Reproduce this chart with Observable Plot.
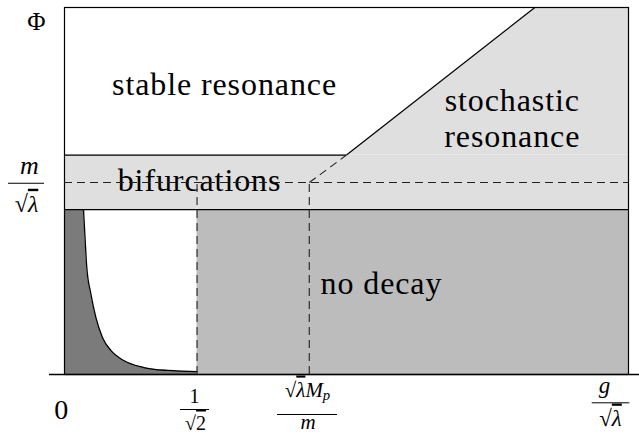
<!DOCTYPE html>
<html>
<head>
<meta charset="utf-8">
<script src="https://cdn.jsdelivr.net/npm/d3@7"></script>
<script src="https://cdn.jsdelivr.net/npm/@observablehq/plot@0.6"></script>
<style>
  html, body { margin: 0; padding: 0; background: #ffffff; }
  #chart { width: 639px; height: 435px; }
</style>
</head>
<body>
<div id="chart"></div>
<script>
// ---------- data (x in units of g/√λ, y in units of the top of the Φ axis) ----------
const xTickValues       = [0, 0.235, 0.434, 1];
const xTickNumerators   = ["0", "1", "√λM_p", "g"];
const xTickDenominators = ["", "√2", "m", "√λ"];
const yTickValues       = [0.523, 1];
const yTickNumerators   = ["m", "Φ"];
const yTickDenominators = ["√λ", ""];

const bandTop    = 0.598;   // upper edge of the bifurcation band
const bandBottom = 0.449;   // upper edge of the "no decay" block
const kinkX      = 0.5;     // where the stochastic boundary leaves the band
const topCrossX  = 0.834;   // where it reaches the top of the plot

// stochastic-resonance region (upper boundary)
const stochX   = [kinkX, topCrossX, 1];
const stochTop = [bandTop, 1, 1];

// decay boundary curve
const curveX = [0.0337, 0.036, 0.0395, 0.0466, 0.0555, 0.0673, 0.0822, 0.105, 0.1405, 0.183, 0.235];
const curveY = [0.449, 0.385, 0.292, 0.221, 0.156, 0.101, 0.0655, 0.038, 0.019, 0.011, 0.008];

// region names and their anchor (text baseline) in data units
const regionNames = ["stable resonance", "stochastic\nresonance", "bifurcations", "no decay"];
const regionX     = [0.2837, 0.794, 0.2394, 0.562];
const regionY     = [0.7613, 0.6194, 0.4993, 0.2183];

// ---------- layout / styling ----------
const W = 639, H = 435;
const ML = 64, MR = 11, MT = 7, MB = 61;
const PX = W - ML - MR;            // pixels per x unit
const SERIF = "Liberation Serif";
const LIGHT = "#dfdfdf", MEDIUM = "#bcbcbc", DARK = "#7b7b7b";
const DASH = "8,5";

const critical = yTickValues[0];
const halfRoot = xTickValues[1];
const mpRatio  = xTickValues[2];

const band   = [{x1: 0, x2: 1, y1: bandBottom, y2: bandTop}];
const noDec  = [{x1: halfRoot, x2: 1, y1: 0, y2: bandBottom}];
const stoch  = stochX.map((x, i) => ({x, y1: bandTop, y2: stochTop[i]}));
const curve  = curveX.map((x, i) => ({x, y: curveY[i]}));
const darkA  = [{x: 0, y: bandBottom}, ...curve];

function label(axis, v, str, s) {
  if (!str) return null;
  const pos = axis === "x" ? {x: () => v, frameAnchor: "bottom"} : {y: () => v, frameAnchor: "left"};
  const o = {...pos, text: d => d, dx: s.dx, dy: s.dy, fontSize: s.size, fontFamily: SERIF,
    lineAnchor: "bottom", textAnchor: "middle", fill: "black"};
  if (s.italic) o.fontStyle = "italic";
  return Plot.text([str], o);
}
function fracBar(axis, v, s) {
  if (axis === "x") return Plot.ruleY([0], {x1: () => v + s.l / PX, x2: () => v + s.r / PX, dy: s.dy, stroke: "black", strokeWidth: 1});
  return Plot.ruleY([v], {x1: () => s.l / PX, x2: () => s.r / PX, dy: s.dy, stroke: "black", strokeWidth: 1});
}

// label styles (pixel offsets from the tick position)
const xNumStyle = [
  {dx: -3.3, dy: 44.5, size: 28},
  {dx: -2.5, dy: 28,   size: 20},
  {dx: -1.8, dy: 22,   size: 21, italic: true},
  {dx: -24,  dy: 18,   size: 23, italic: true}
];
const xBarStyle = [null, {l: -16.5, r: 12.5, dy: 35}, {l: -31.8, r: 28.2, dy: 40}, {l: -36.3, r: 1.3, dy: 28.3}];
const xDenStyle = [null, {dx: -1.5, dy: 55, size: 20}, {dx: -1.3, dy: 54.5, size: 21, italic: true}, {dx: -18, dy: 51, size: 23, italic: true}];
const yNumStyle = [{dx: -35, dy: -8.3, size: 26, italic: true}, {dx: -28, dy: 22, size: 25}];
const yBarStyle = [{l: -56, r: -20, dy: 0.7}, null];
const yDenStyle = [{dx: -38, dy: 29.2, size: 24, italic: true}, null];

const tickMarks = [];
xTickValues.forEach((v, i) => {
  tickMarks.push(label("x", v, xTickNumerators[i], xNumStyle[i]));
  if (xTickDenominators[i]) {
    tickMarks.push(fracBar("x", v, xBarStyle[i]));
    tickMarks.push(label("x", v, xTickDenominators[i], xDenStyle[i]));
  }
});
yTickValues.forEach((v, i) => {
  tickMarks.push(label("y", v, yTickNumerators[i], yNumStyle[i]));
  if (yTickDenominators[i]) {
    tickMarks.push(fracBar("y", v, yBarStyle[i]));
    tickMarks.push(label("y", v, yTickDenominators[i], yDenStyle[i]));
  }
});

const solid = {stroke: "black", strokeWidth: 1.2};
const dashed = {stroke: "#222", strokeWidth: 1.1, strokeDasharray: DASH};

const plot = Plot.plot({
  width: W, height: H,
  marginLeft: ML, marginRight: MR, marginTop: MT, marginBottom: MB,
  x: {domain: [0, 1], axis: null},
  y: {domain: [0, 1], axis: null},
  marks: [
    Plot.rect(band,  {x1: "x1", x2: "x2", y1: "y1", y2: "y2", fill: LIGHT}),
    Plot.areaY(stoch, {x: "x", y1: "y1", y2: "y2", fill: LIGHT}),
    Plot.rect(noDec, {x1: "x1", x2: "x2", y1: "y1", y2: "y2", fill: MEDIUM}),
    Plot.areaY(darkA, {x: "x", y1: 0, y2: "y", curve: "monotone-x", fill: DARK}),
    Plot.line(curve, {x: "x", y: "y", curve: "monotone-x", stroke: "black", strokeWidth: 1.3}),
    Plot.text(regionNames, {
      x: (d, i) => regionX[i], y: (d, i) => regionY[i], text: d => d,
      fontSize: 32, fontFamily: SERIF, lineAnchor: "bottom", lineHeight: 1.13,
      textAnchor: "middle", fill: "black"
    }),
    // solid boundaries
    Plot.ruleY([bandTop],    {x1: 0, x2: kinkX, ...solid}),
    Plot.ruleY([bandBottom], {x1: 0, x2: 1, ...solid}),
    Plot.link([0], {x1: kinkX, y1: bandTop, x2: topCrossX, y2: 1, ...solid}),
    Plot.frame({stroke: "black", strokeWidth: 1.2}),
    // dashed guides
    Plot.ruleY([critical], {x1: 0, x2: 1, ...dashed}),
    Plot.ruleX([halfRoot, mpRatio], {y1: 0, y2: critical, ...dashed}),
    Plot.link([0], {x1: mpRatio, y1: critical, x2: kinkX, y2: bandTop, ...dashed}),
    // baseline axis
    Plot.ruleY([0], {x1: -15 / PX, x2: 1 + 11 / PX, stroke: "black", strokeWidth: 1.3}),
    ...tickMarks.filter(Boolean)
  ]
});

// ---------- typographic touches: radicals (overlined radicand) and subscripts ----------
const NS = "http://www.w3.org/2000/svg";
plot.querySelectorAll("text").forEach(t => {
  const s = t.textContent;
  if (!/[√_]/.test(s) || t.children.length) return;
  t.textContent = "";
  const add = (str, attrs = {}) => {
    const ts = document.createElementNS(NS, "tspan");
    ts.textContent = str;
    for (const k in attrs) ts.setAttribute(k, attrs[k]);
    t.appendChild(ts);
    return ts;
  };
  for (let i = 0; i < s.length; ) {
    const c = s[i];
    if (c === "√") { add("√", {"font-style": "normal"}); add(s[i + 1], {"style": "text-decoration: overline"}); i += 2; }
    else if (c === "_") { add(s[i + 1], {dy: "0.22em", "font-size": "0.7em"}); i += 2; }
    else { add(c); i += 1; }
  }
});
// slightly wider tracking on the region names (closer to the Computer Modern widths)
const regionSet = new Set(regionNames.map(d => d.replace("\n", "")));
plot.querySelectorAll("text").forEach(t => {
  if (regionSet.has(t.textContent)) t.setAttribute("letter-spacing", "0.9");
});

document.getElementById("chart").appendChild(plot);
</script>
</body>
</html>
